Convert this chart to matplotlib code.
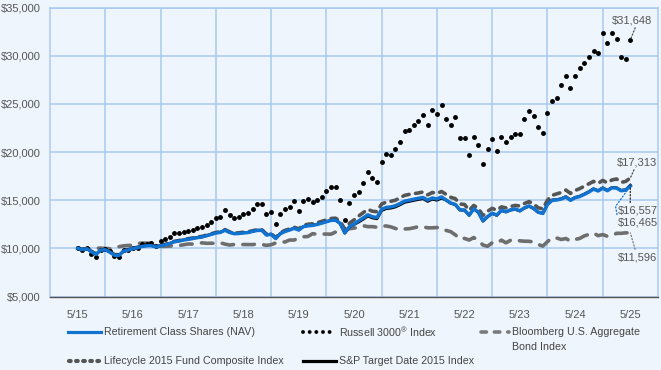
import numpy as np
import matplotlib
matplotlib.use("Agg")
import matplotlib.pyplot as plt
from matplotlib.lines import Line2D

plt.rcParams['font.family'] = ['Liberation Sans', 'DejaVu Sans']
plt.rcParams['mathtext.fontset'] = 'custom'
plt.rcParams['mathtext.rm'] = 'Liberation Sans'

# growth of $10,000, month-end values 5/15 .. 5/25
retirement = [
    10000, 9870, 9960, 9640, 9370, 9820, 9850, 9600, 9280, 9270, 9720, 9820, 9990,
    10060, 10200, 10260, 10280, 10140, 10270, 10360, 10500, 10680, 10760, 10860, 10940,
    11020, 11110, 11180, 11310, 11450, 11590, 11660, 11880, 11650, 11520, 11540, 11600,
    11640, 11760, 11860, 11870, 11380, 11460, 11020, 11520, 11750, 11900, 12080, 11900,
    12250, 12340, 12380, 12480, 12620, 12760, 12900, 12920, 12600, 11620, 12250, 12520,
    12850, 13150, 13480, 13280, 13200, 14050, 14250, 14300, 14420, 14650, 14900, 15000,
    15100, 15200, 15280, 15000, 15230, 15120, 15340, 15020, 14700, 14560, 14000, 13980,
    13450, 14120, 13750, 12850, 13300, 13650, 13450, 13950, 13800, 14000, 14080, 13900,
    14200, 14400, 14150, 13750, 13620, 14550, 14980, 15020, 15120, 15330, 14980, 15250,
    15380, 15600, 15850, 16150, 15950, 16250, 15980, 16280, 16250, 15980, 16050, 16465,
]
russell = [
    10000, 9830, 9995, 9400, 9130, 9850, 9900, 9700, 9160, 9150, 9800, 9860, 10040,
    10060, 10460, 10490, 10510, 10280, 10740, 10940, 11150, 11560, 11570, 11700, 11810,
    11920, 12150, 12170, 12460, 12740, 13120, 13250, 13950, 13430, 13160, 13210, 13580,
    13660, 14110, 14590, 14620, 13540, 13810, 12530, 13610, 14090, 14300, 14870, 13900,
    14880, 15100, 14800, 15040, 15370, 15950, 16410, 16400, 15050, 12980, 14690, 15490,
    15840, 16740, 17950, 17300, 16920, 18930, 19790, 19700, 20310, 21040, 22130, 22240,
    22800, 23190, 23860, 22790, 24340, 23970, 24900, 23430, 22840, 23620, 21490, 21470,
    19670, 21520, 20720, 18800, 20340, 21400, 20140, 21530, 21030, 21600, 21820, 21900,
    23390, 24230, 23750, 22610, 22000, 24050, 25320, 25600, 26980, 27840, 26620, 27870,
    28730, 29280, 29890, 30520, 30300, 32330, 31330, 32330, 31720, 29880, 29670, 31648,
]
bond = [
    10000, 9890, 9960, 9950, 10020, 10020, 9990, 9960, 10100, 10170, 10260, 10300, 10300,
    10490, 10550, 10540, 10530, 10450, 10200, 10210, 10230, 10300, 10290, 10370, 10450,
    10440, 10480, 10570, 10520, 10530, 10520, 10570, 10440, 10340, 10400, 10330, 10400,
    10390, 10390, 10450, 10390, 10310, 10370, 10560, 10670, 10660, 10860, 10860, 11060,
    11200, 11230, 11520, 11460, 11490, 11480, 11470, 11690, 11900, 11830, 12040, 12100,
    12170, 12350, 12250, 12250, 12190, 12310, 12320, 12230, 12060, 11910, 12010, 12040,
    12130, 12260, 12240, 12130, 12130, 12160, 12120, 11860, 11730, 11400, 10970, 11030,
    10860, 11120, 10810, 10340, 10210, 10580, 10530, 10850, 10570, 10840, 10900, 10780,
    10740, 10730, 10660, 10400, 10230, 10690, 11100, 11070, 10920, 11020, 10740, 10920,
    11030, 11290, 11450, 11600, 11310, 11430, 11250, 11310, 11560, 11560, 11610, 11596,
]
lifecycle = [
    10000, 9900, 9990, 9690, 9430, 9860, 9900, 9660, 9350, 9340, 9770, 9870, 10040,
    10110, 10250, 10310, 10330, 10200, 10320, 10410, 10550, 10730, 10810, 10910, 11000,
    11080, 11170, 11240, 11370, 11510, 11650, 11720, 11940, 11710, 11590, 11610, 11670,
    11710, 11830, 11930, 11940, 11460, 11540, 11110, 11620, 11860, 12010, 12190, 12020,
    12400, 12500, 12550, 12660, 12800, 12950, 13100, 13130, 12800, 12000, 12600, 12950,
    13350, 13700, 14050, 13850, 13800, 14600, 14800, 14880, 15000, 15250, 15500, 15600,
    15680, 15750, 15850, 15550, 15800, 15700, 15900, 15600, 15300, 15150, 14600, 14550,
    13950, 14450, 14150, 13400, 13850, 14150, 13950, 14300, 14200, 14350, 14450, 14400,
    14650, 14850, 14600, 14200, 14100, 15000, 15500, 15650, 15800, 16050, 15700, 16000,
    16200, 16450, 16700, 16950, 16750, 17050, 16800, 17100, 17200, 16850, 16950, 17313,
]
sp_target = [
    10000, 9890, 9980, 9660, 9390, 9840, 9870, 9620, 9300, 9290, 9740, 9840, 10010,
    10080, 10220, 10280, 10300, 10160, 10290, 10380, 10520, 10700, 10780, 10880, 10960,
    11040, 11130, 11200, 11330, 11470, 11610, 11680, 11900, 11670, 11540, 11560, 11620,
    11660, 11780, 11880, 11890, 11400, 11480, 11040, 11540, 11770, 11920, 12100, 11920,
    12270, 12360, 12400, 12500, 12640, 12780, 12920, 12940, 12550, 11570, 12200, 12470,
    12720, 13020, 13350, 13150, 13070, 13920, 14120, 14170, 14290, 14520, 14770, 14870,
    14970, 15070, 15150, 14870, 15100, 14990, 15210, 14990, 14670, 14530, 13970, 13950,
    13420, 14090, 13720, 12820, 13270, 13620, 13420, 13920, 13770, 13970, 14050, 13870,
    14170, 14370, 14120, 13720, 13660, 14590, 15020, 15060, 15160, 15370, 15020, 15290,
    15420, 15640, 15890, 16190, 15990, 16290, 16020, 16320, 16290, 16020, 16090, 16557,
]
year_labels = ['5/15', '5/16', '5/17', '5/18', '5/19', '5/20',
               '5/21', '5/22', '5/23', '5/24', '5/25']
y_ticks = [5000, 10000, 15000, 20000, 25000, 30000, 35000]

bg = '#eef5fc'
grid_c = '#a9c9f0'
txt_c = '#555555'
blue = '#1272d0'

x = np.arange(len(retirement)) / 12.0

fig = plt.figure(figsize=(6.61, 3.70), dpi=100, facecolor=bg)
ax = fig.add_axes([50/661, 1 - 296.5/370, 608/661, 289/370], facecolor=bg)

ax.plot(x, bond, color='#6e6e6e', lw=2.6, dashes=(3.2, 2.6),
        dash_capstyle='round', zorder=3)
ax.plot(x, lifecycle, color='#555555', lw=2.6, dashes=(1.8, 1.8),
        dash_capstyle='round', zorder=3)
ax.plot(x, russell, ls='none', marker='o', ms=2.5, color='black', zorder=4)
ax.plot(x, sp_target, color='black', lw=2.0, zorder=5)
ax.plot(x, retirement, color=blue, lw=2.5, zorder=6)

ax.set_xlim(-0.5, 10.5)
ax.set_ylim(5000, 35000)
ax.set_xticks(range(11))
ax.set_xticklabels(year_labels)
ax.set_xticks(np.arange(0.5, 10, 1), minor=True)
ax.set_yticks(y_ticks)
ax.set_yticklabels(['${:,}'.format(v) for v in y_ticks])
ax.tick_params(axis='both', which='both', length=0, labelsize=8, colors=txt_c)
ax.tick_params(axis='x', pad=10)
ax.tick_params(axis='y', pad=7)
ax.grid(True, axis='y', color=grid_c, lw=1.1)
ax.grid(True, axis='x', which='minor', color=grid_c, lw=1.1)
for s in ['left', 'right', 'top']:
    ax.spines[s].set_color(grid_c)
    ax.spines[s].set_linewidth(1.1)
ax.spines['bottom'].set_color('#555555')
ax.spines['bottom'].set_linewidth(1.0)
ax.set_axisbelow(True)

# end value labels with dotted leaders
end = x[-1]
def end_label(val, txt, tx, ty, c, rel, conn='arc3'):
    ax.annotate(txt, xy=(end, val), xytext=(tx, ty), fontsize=8, color=txt_c,
                ha='left', va='center', zorder=7,
                arrowprops=dict(arrowstyle='-', ls=':', color=c, lw=0.9,
                                shrinkA=0, shrinkB=0, relpos=rel,
                                connectionstyle=conn))

end_label(russell[-1], '$31,648', 9.67, 33700, '#444444', (0.6, 0.0))
end_label(lifecycle[-1], '$17,313', 9.76, 18950, '#444444', (0.45, 0.0))
end_label(sp_target[-1], '$16,557', 9.78, 13950, '#222222', (0.3, 1.0))
end_label(retirement[-1], '$16,465', 9.78, 12700, blue, (0.0, 0.6),
          'angle,angleA=100,angleB=54,rad=0')
end_label(bond[-1], '$11,596', 9.78, 9100, '#777777', (0.45, 1.0))

# legend drawn in pixel positions
def px(xp, yp):
    return xp / 661, 1 - yp / 370

def leg_line(x0, x1, y, **kw):
    (a, b), (c, d) = px(x0, y), px(x1, y)
    fig.add_artist(Line2D([a, c], [b, d], transform=fig.transFigure, **kw))

def leg_text(xp, yp, s):
    a, b = px(xp, yp)
    fig.text(a, b, s, fontsize=7.7, color='#444444', ha='left', va='center')

r1, r1b, r2 = 332, 347, 361
leg_line(68, 101, r1, color=blue, lw=2.3)
leg_text(104, r1, 'Retirement Class Shares (NAV)')
leg_line(303, 336, r1, color='black', lw=2.8, dashes=(0.01, 1.7),
         dash_capstyle='round')
leg_text(339, r1, r'Russell 3000$^{®}$ Index')
leg_line(481, 509, r1, color='#7a7a7a', lw=2.6, dashes=(1.5, 2.2),
         dash_capstyle='round')
leg_text(512, r1, 'Bloomberg U.S. Aggregate')
leg_text(512, r1b, 'Bond Index')
leg_line(69, 99, r2, color='#555555', lw=3.0, dashes=(0.4, 1.3),
         dash_capstyle='round')
leg_text(104, r2, 'Lifecycle 2015 Fund Composite Index')
leg_line(303, 336, r2, color='black', lw=2.3)
leg_text(339, r2, 'S&P Target Date 2015 Index')

fig.savefig('out.png', dpi=100, facecolor=bg)
